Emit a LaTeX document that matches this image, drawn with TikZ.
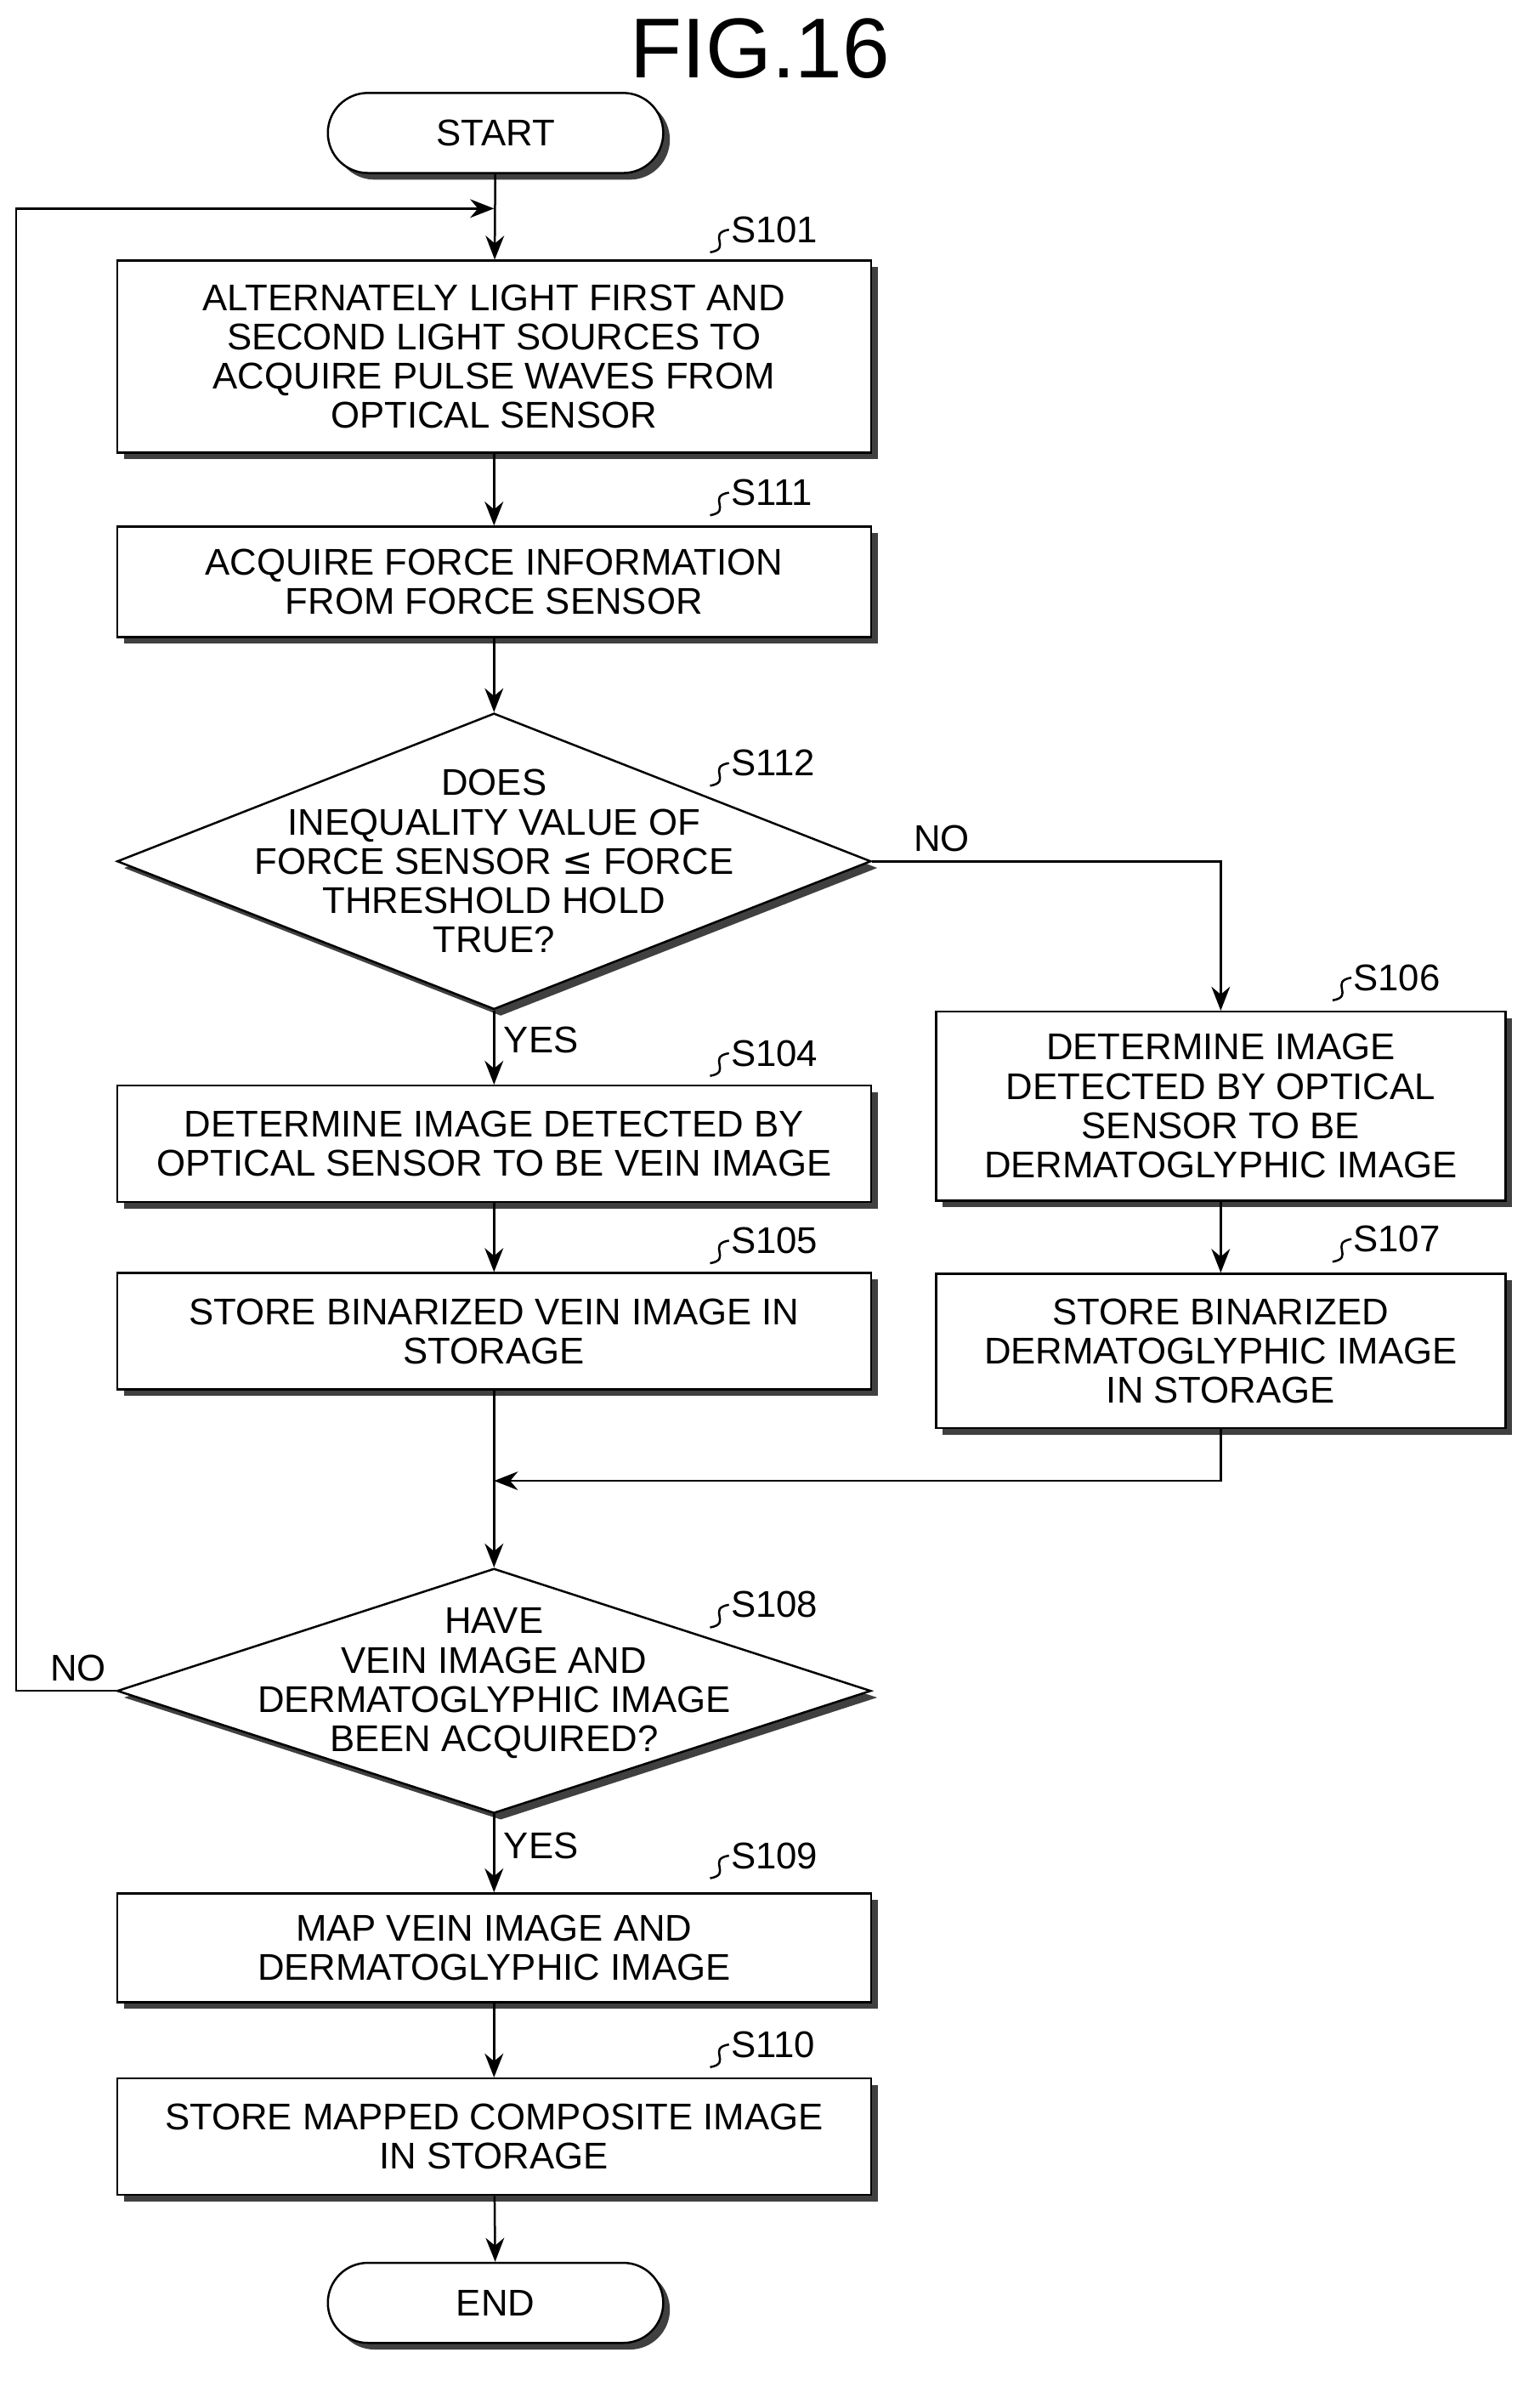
\documentclass[tikz,border=0pt]{standalone}
\usepackage{fontspec}
\setmainfont{Liberation Sans}
\newfontfamily\symfont{DejaVu Sans}
\usetikzlibrary{shapes.geometric, positioning, calc, shadows, arrows.meta}
\tikzset{box/.style={draw, thick, fill=white, minimum width=9.98cm, align=center,
        font=\fontsize{14}{14.8}\selectfont,
        drop shadow={shadow xshift=2.5pt, shadow yshift=-2.5pt, fill=black!75, opacity=1}},
    term/.style={box, rounded corners=0.53cm, minimum width=4.44cm, minimum height=1.06cm},
    dia/.style={draw, thick, diamond, fill=white, inner sep=0pt, minimum width=9.98cm,
        drop shadow={shadow xshift=2.5pt, shadow yshift=-2.5pt, fill=black!75, opacity=1}},
    txt/.style={align=center, font=\fontsize{14}{14.8}\selectfont},
    flow/.style={thick, -{Stealth[length=9pt,width=7pt]}}
}
\newcommand{\steptag}[3]{\draw[thick] (#1,#2) .. controls ++(0.3,0.05) and ++(-0.3,-0.05) .. ++(0.25,0.3)
    node[right=-3pt, font=\fontsize{14}{14}\selectfont] {#3};}

\begin{document}
\begin{tikzpicture}
    \useasboundingbox (0,0) rectangle (20.38,-31.66);
    \node[font=\fontsize{32}{32}\selectfont] (title) at (10.06,-0.64) {FIG.16};

    \node[term] (start) at (6.56,-1.76) {START};
    \node[box, minimum height=2.54cm] (s101) at (6.54,-4.72) {ALTERNATELY LIGHT FIRST AND\\SECOND LIGHT SOURCES TO\\ACQUIRE PULSE WAVES FROM\\OPTICAL SENSOR};
    \node[box, minimum height=1.46cm] (s111) at (6.54,-7.7) {ACQUIRE FORCE INFORMATION\\FROM FORCE SENSOR};
    \node[dia, minimum height=3.92cm] (s112) at (6.54,-11.4) {};
    \node[txt] at (s112) {DOES\\INEQUALITY VALUE OF\\FORCE SENSOR {\symfont ≤} FORCE\\THRESHOLD HOLD\\TRUE?};
    \node[box, minimum height=1.54cm] (s104) at (6.54,-15.14) {DETERMINE IMAGE DETECTED BY\\OPTICAL SENSOR TO BE VEIN IMAGE};
    \node[box, minimum height=1.54cm] (s105) at (6.54,-17.62) {STORE BINARIZED VEIN IMAGE IN\\STORAGE};
    \node[box, minimum width=7.54cm, minimum height=2.5cm] (s106) at (16.16,-14.64) {DETERMINE IMAGE\\DETECTED BY OPTICAL\\SENSOR TO BE\\DERMATOGLYPHIC IMAGE};
    \node[box, minimum width=7.54cm, minimum height=2.04cm] (s107) at (16.16,-17.88) {STORE BINARIZED\\DERMATOGLYPHIC IMAGE\\IN STORAGE};
    \coordinate (merge) at (6.54,-19.6);
    \node[dia, minimum height=3.24cm] (s108) at (6.54,-22.38) {};
    \node[txt] at ($(s108)+(0,0.1)$) {HAVE\\VEIN IMAGE AND\\DERMATOGLYPHIC IMAGE\\BEEN ACQUIRED?};
    \node[box, minimum height=1.44cm] (s109) at (6.54,-25.78) {MAP VEIN IMAGE AND\\DERMATOGLYPHIC IMAGE};
    \node[box, minimum height=1.54cm] (s110) at (6.54,-28.28) {STORE MAPPED COMPOSITE IMAGE\\IN STORAGE};
    \node[term] (end) at (6.56,-30.48) {END};
    \coordinate (loop) at (6.54,-2.76);

    \draw[flow] (start) -- (s101);
    \draw[flow] (s101) -- (s111);
    \draw[flow] (s111) -- (s112);
    \draw[flow] (s112) -- node[right, txt, pos=0.4] {YES} (s104);
    \draw[flow] (s104) -- (s105);
    \draw[flow] (s112.east) -| node[above, txt, pos=0.1] {NO} (s106);
    \draw[flow] (s106) -- (s107);
    \draw[flow] (s107.south) |- (merge);
    \draw[flow] (s105) -- (s108);
    \draw[flow] (s108) -- node[right, txt, pos=0.4] {YES} (s109);
    \draw[flow] (s108.west) node[above left, txt] {NO} -- ++(-1.32,0) |- (loop);
    \draw[flow] (s109) -- (s110);
    \draw[flow] (s110) -- (end);

    \steptag{9.4}{-3.34}{S101}
    \steptag{9.4}{-6.82}{S111}
    \steptag{9.4}{-10.4}{S112}
    \steptag{9.4}{-14.24}{S104}
    \steptag{9.4}{-16.72}{S105}
    \steptag{17.64}{-13.24}{S106}
    \steptag{17.64}{-16.7}{S107}
    \steptag{9.4}{-21.54}{S108}
    \steptag{9.4}{-24.86}{S109}
    \steptag{9.4}{-27.36}{S110}
\end{tikzpicture}
\end{document}
